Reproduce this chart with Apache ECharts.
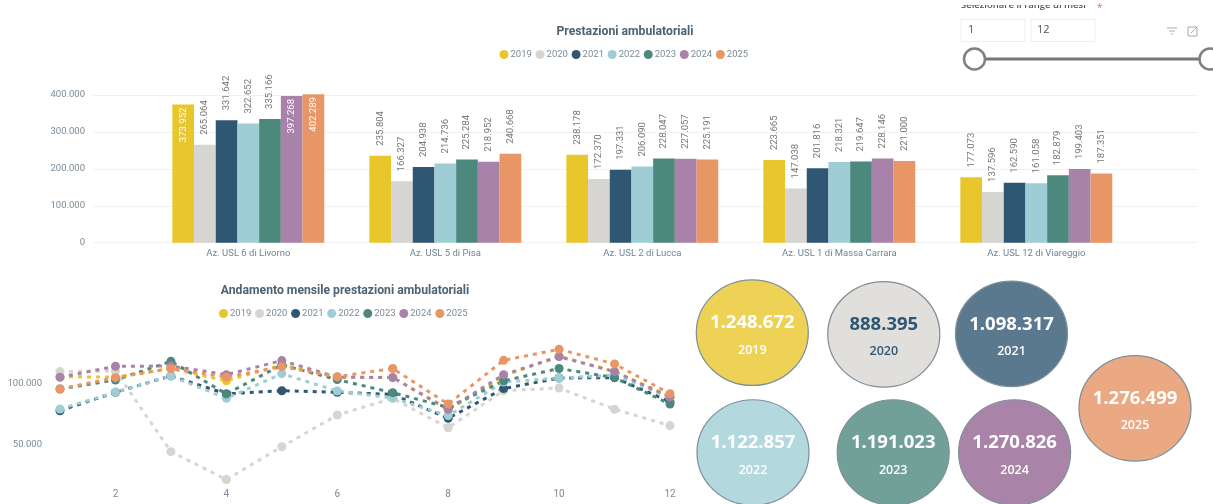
<!DOCTYPE html>
<html><head><meta charset="utf-8">
<style>html,body{margin:0;padding:0;background:#fff;overflow:hidden}#c{width:1213px;height:504px}</style>
<script src="https://cdn.jsdelivr.net/npm/echarts@6/dist/echarts.min.js"></script>
</head><body><div id="c"></div>
<script>
const years = ['2019','2020','2021','2022','2023','2024','2025'];
const aziende = ['Az. USL 6 di Livorno','Az. USL 5 di Pisa','Az. USL 2 di Lucca','Az. USL 1 di Massa Carrara','Az. USL 12 di Viareggio'];
const bar2019 = [373952,235804,238178,223665,177073];
const bar2020 = [265064,166327,172370,147038,137596];
const bar2021 = [331642,204938,197331,201816,162590];
const bar2022 = [322652,214736,206090,218321,161058];
const bar2023 = [335166,225284,228047,219647,182879];
const bar2024 = [397268,218952,227057,228146,199403];
const bar2025 = [402289,240668,225191,221000,187351];
const months = ['1','2','3','4','5','6','7','8','9','10','11','12'];
const line2019 = [105400,105000,112000,102000,114900,104900,105000,78400,106000,122000,109500,89000];
const line2020 = [109500,110000,44600,22000,48600,74300,87800,64000,94000,96200,79000,65700];
const line2021 = [77800,92700,106000,91400,94000,92700,91000,71600,95700,104300,104600,85000];
const line2022 = [79200,92700,106000,87800,107800,93800,88000,73800,101000,104300,106800,88400];
const line2023 = [95400,102700,117800,91400,114900,103000,92400,80500,102000,112000,104600,83200];
const line2024 = [104900,113800,114000,107000,118400,105000,104600,79000,107000,121600,109500,89000];
const line2025 = [95400,104600,112000,105000,113500,105400,112000,83200,118600,127600,115700,91600];
const totals = [1248672,888395,1098317,1122857,1191023,1270826,1276499];

const colors = ['#E8C72C','#D6D5D1','#2F5773','#9FCDD6','#4C887C','#A982A9','#E89666'];
const bubbleFill = ['#EDD255','#E0DFDC','#5A788E','#B3D8DE','#70A098','#AA83A8','#EBA983'];
const bubblePlace = [[752.3,332.7],[883.8,334.3],[1011.5,333.8],[753,452.5],[893.2,452.5],[1014.6,452.5],[1135,408.3]];
const barRows = [bar2019,bar2020,bar2021,bar2022,bar2023,bar2024,bar2025];
const lineRows = [line2019,line2020,line2021,line2022,line2023,line2024,line2025];

const din = '"Roboto",sans-serif';
const ui = '"Open Sans",sans-serif';
const fmt = v => String(v).replace(/\B(?=(\d{3})+(?!\d))/g,'.');
const axisText = '#7b8b97', gridCol = '#f1f1f1';
const legendBase = {icon:'circle',itemWidth:9,itemHeight:9,itemGap:3.7,padding:0,orient:'horizontal',data:years,
  textStyle:{color:'#7b8b97',fontFamily:din,fontSize:9.5,padding:[0,0,0,-3]}};

const barSeries = years.map((y,i)=>({
  name:y,type:'bar',xAxisIndex:0,yAxisIndex:0,barWidth:21.7,barGap:0,clip:false,
  itemStyle:{color:colors[i]},
  data:barRows[i].map((v,j)=>{
    const inside = j===0 && (i===0||i===5||i===6);
    return {value:v,label:inside?{position:'insideTop',align:'right',distance:3,color:'#fff'}:undefined};
  }),
  label:{show:true,position:'top',rotate:90,align:'left',verticalAlign:'middle',distance:10,
    color:'#777',fontFamily:din,fontSize:9.5,formatter:p=>fmt(p.value)}
}));
const lineSeries = years.map((y,i)=>({
  name:y,type:'line',xAxisIndex:2,yAxisIndex:2,data:lineRows[i],symbol:'circle',symbolSize:9,clip:false,
  itemStyle:{color:colors[i]},lineStyle:{color:colors[i],width:3,type:[4,5]}
}));

const slider = [
  {type:'text',x:961,y:0,style:{text:'Selezionare il range di mesi',font:'600 9.5px "Open Sans"',fill:'#555'}},
  {type:'rect',shape:{x:950,y:0,width:160,height:5},style:{fill:'#fff'}},
  {type:'text',x:1097,y:3,style:{text:'*',font:'10px "Open Sans"',fill:'#d9725a'}},
  {type:'rect',shape:{x:961,y:19.5,width:64,height:22},style:{fill:'#fff',stroke:'#eeeeee',lineWidth:1}},
  {type:'rect',shape:{x:1031,y:19.5,width:64,height:22},style:{fill:'#fff',stroke:'#eeeeee',lineWidth:1}},
  {type:'text',x:968,y:24,style:{text:'1',font:'11px "Open Sans"',fill:'#555'}},
  {type:'text',x:1037,y:24,style:{text:'12',font:'11px "Open Sans"',fill:'#555'}},
  {type:'line',shape:{x1:984,y1:59,x2:1199,y2:59},style:{stroke:'#777',lineWidth:3}},
  {type:'circle',shape:{cx:974.5,cy:59,r:10.5},style:{fill:'#fff',stroke:'#808080',lineWidth:2.5}},
  {type:'circle',shape:{cx:1210,cy:59,r:10.5},style:{fill:'#fff',stroke:'#808080',lineWidth:2.5}},
  {type:'line',shape:{x1:1167,y1:28,x2:1177,y2:28},style:{stroke:'#aaa',lineWidth:1}},
  {type:'line',shape:{x1:1169,y1:31,x2:1175,y2:31},style:{stroke:'#aaa',lineWidth:1}},
  {type:'line',shape:{x1:1171,y1:34,x2:1173,y2:34},style:{stroke:'#aaa',lineWidth:1}},
  {type:'rect',shape:{x:1188,y:27,width:9,height:9},style:{fill:'none',stroke:'#aaa',lineWidth:1}},
  {type:'line',shape:{x1:1191,y1:33,x2:1197,y2:27},style:{stroke:'#aaa',lineWidth:1}}
];

const option = {
  animation:false,backgroundColor:'#fff',
  title:[
    {text:'Prestazioni ambulatoriali',left:620,top:21,textAlign:'center',textStyle:{color:'#4d6272',fontFamily:'"Roboto",sans-serif',fontWeight:'bold',fontSize:12.2}},
    {text:'Andamento mensile prestazioni ambulatoriali',left:340,top:280,textAlign:'center',textStyle:{color:'#4d6272',fontFamily:'"Roboto",sans-serif',fontWeight:'bold',fontSize:12.2}}
  ],
  legend:[
    Object.assign({},legendBase,{left:499.5,top:49.5}),
    Object.assign({},legendBase,{left:219,top:308.5})
  ],
  grid:[
    {left:149.8,width:985,top:95,height:147.7},
    {left:93,width:1104,top:95,height:147.7},
    {left:60,width:610,top:346.3,height:135.7},
    {left:51,width:629,top:346.3,height:135.7},
    {left:0,top:0,width:1213,height:504}
  ],
  xAxis:[
    {gridIndex:0,type:'category',data:aziende,axisLine:{show:false},axisTick:{show:false},axisLabel:{color:'#6f8494',fontFamily:din,fontSize:9.5,margin:6}},
    {gridIndex:1,type:'value',min:0,max:1,show:false},
    {gridIndex:2,type:'category',data:months,boundaryGap:false,axisLine:{show:false},axisTick:{show:false},
      axisLabel:{color:axisText,fontFamily:din,fontSize:10,margin:7,interval:(i,v)=>Number(v)%2===0}},
    {gridIndex:3,type:'value',min:0,max:1,show:false},
    {gridIndex:4,type:'value',min:0,max:1213,show:false}
  ],
  yAxis:[
    {gridIndex:0,type:'value',min:0,max:400000,interval:100000,show:false},
    {gridIndex:1,type:'value',min:0,max:400000,interval:100000,axisLine:{show:false},axisTick:{show:false},
      splitLine:{lineStyle:{color:gridCol,width:1}},
      axisLabel:{color:axisText,fontFamily:din,fontSize:9.5,margin:8,formatter:v=>fmt(v)}},
    {gridIndex:2,type:'value',min:20000,max:130000,show:false},
    {gridIndex:3,type:'value',min:20000,max:130000,axisLine:{show:false},
      axisTick:{show:false,customValues:[50000,100000]},
      splitLine:{lineStyle:{color:gridCol,width:1},showMinLine:false,showMaxLine:false},
      axisLabel:{customValues:[50000,100000],color:axisText,fontFamily:din,fontSize:9.5,margin:9,formatter:v=>fmt(v)}},
    {gridIndex:4,type:'value',min:0,max:504,inverse:true,show:false}
  ],
  series:[
    ...barSeries,
    ...lineSeries,
    {name:'Totali',type:'scatter',xAxisIndex:4,yAxisIndex:4,clip:false,symbol:'circle',symbolSize:[112,105.5],z:5,
      data:totals.map((t,i)=>({
        value:bubblePlace[i],
        itemStyle:{color:bubbleFill[i],opacity:1,borderColor:'#7f8f98',borderWidth:1.2},
        label:{show:true,position:'inside',offset:[0,4],
          formatter:'{v|'+fmt(t)+'}\n{y|'+years[i]+'}',
          rich:{
            v:{fontFamily:ui,fontWeight:'bold',fontSize:18.5,lineHeight:27,align:'center',color:i===1?'#2F5773':'#fff'},
            y:{fontFamily:ui,fontWeight:600,fontSize:12.5,lineHeight:27,align:'center',color:i===1?'#2F5773':'#fff'}
          }}
      }))
    }
  ],
  graphic:slider
};
echarts.init(document.getElementById('c'),null,{renderer:'canvas'}).setOption(option);
</script></body></html>
